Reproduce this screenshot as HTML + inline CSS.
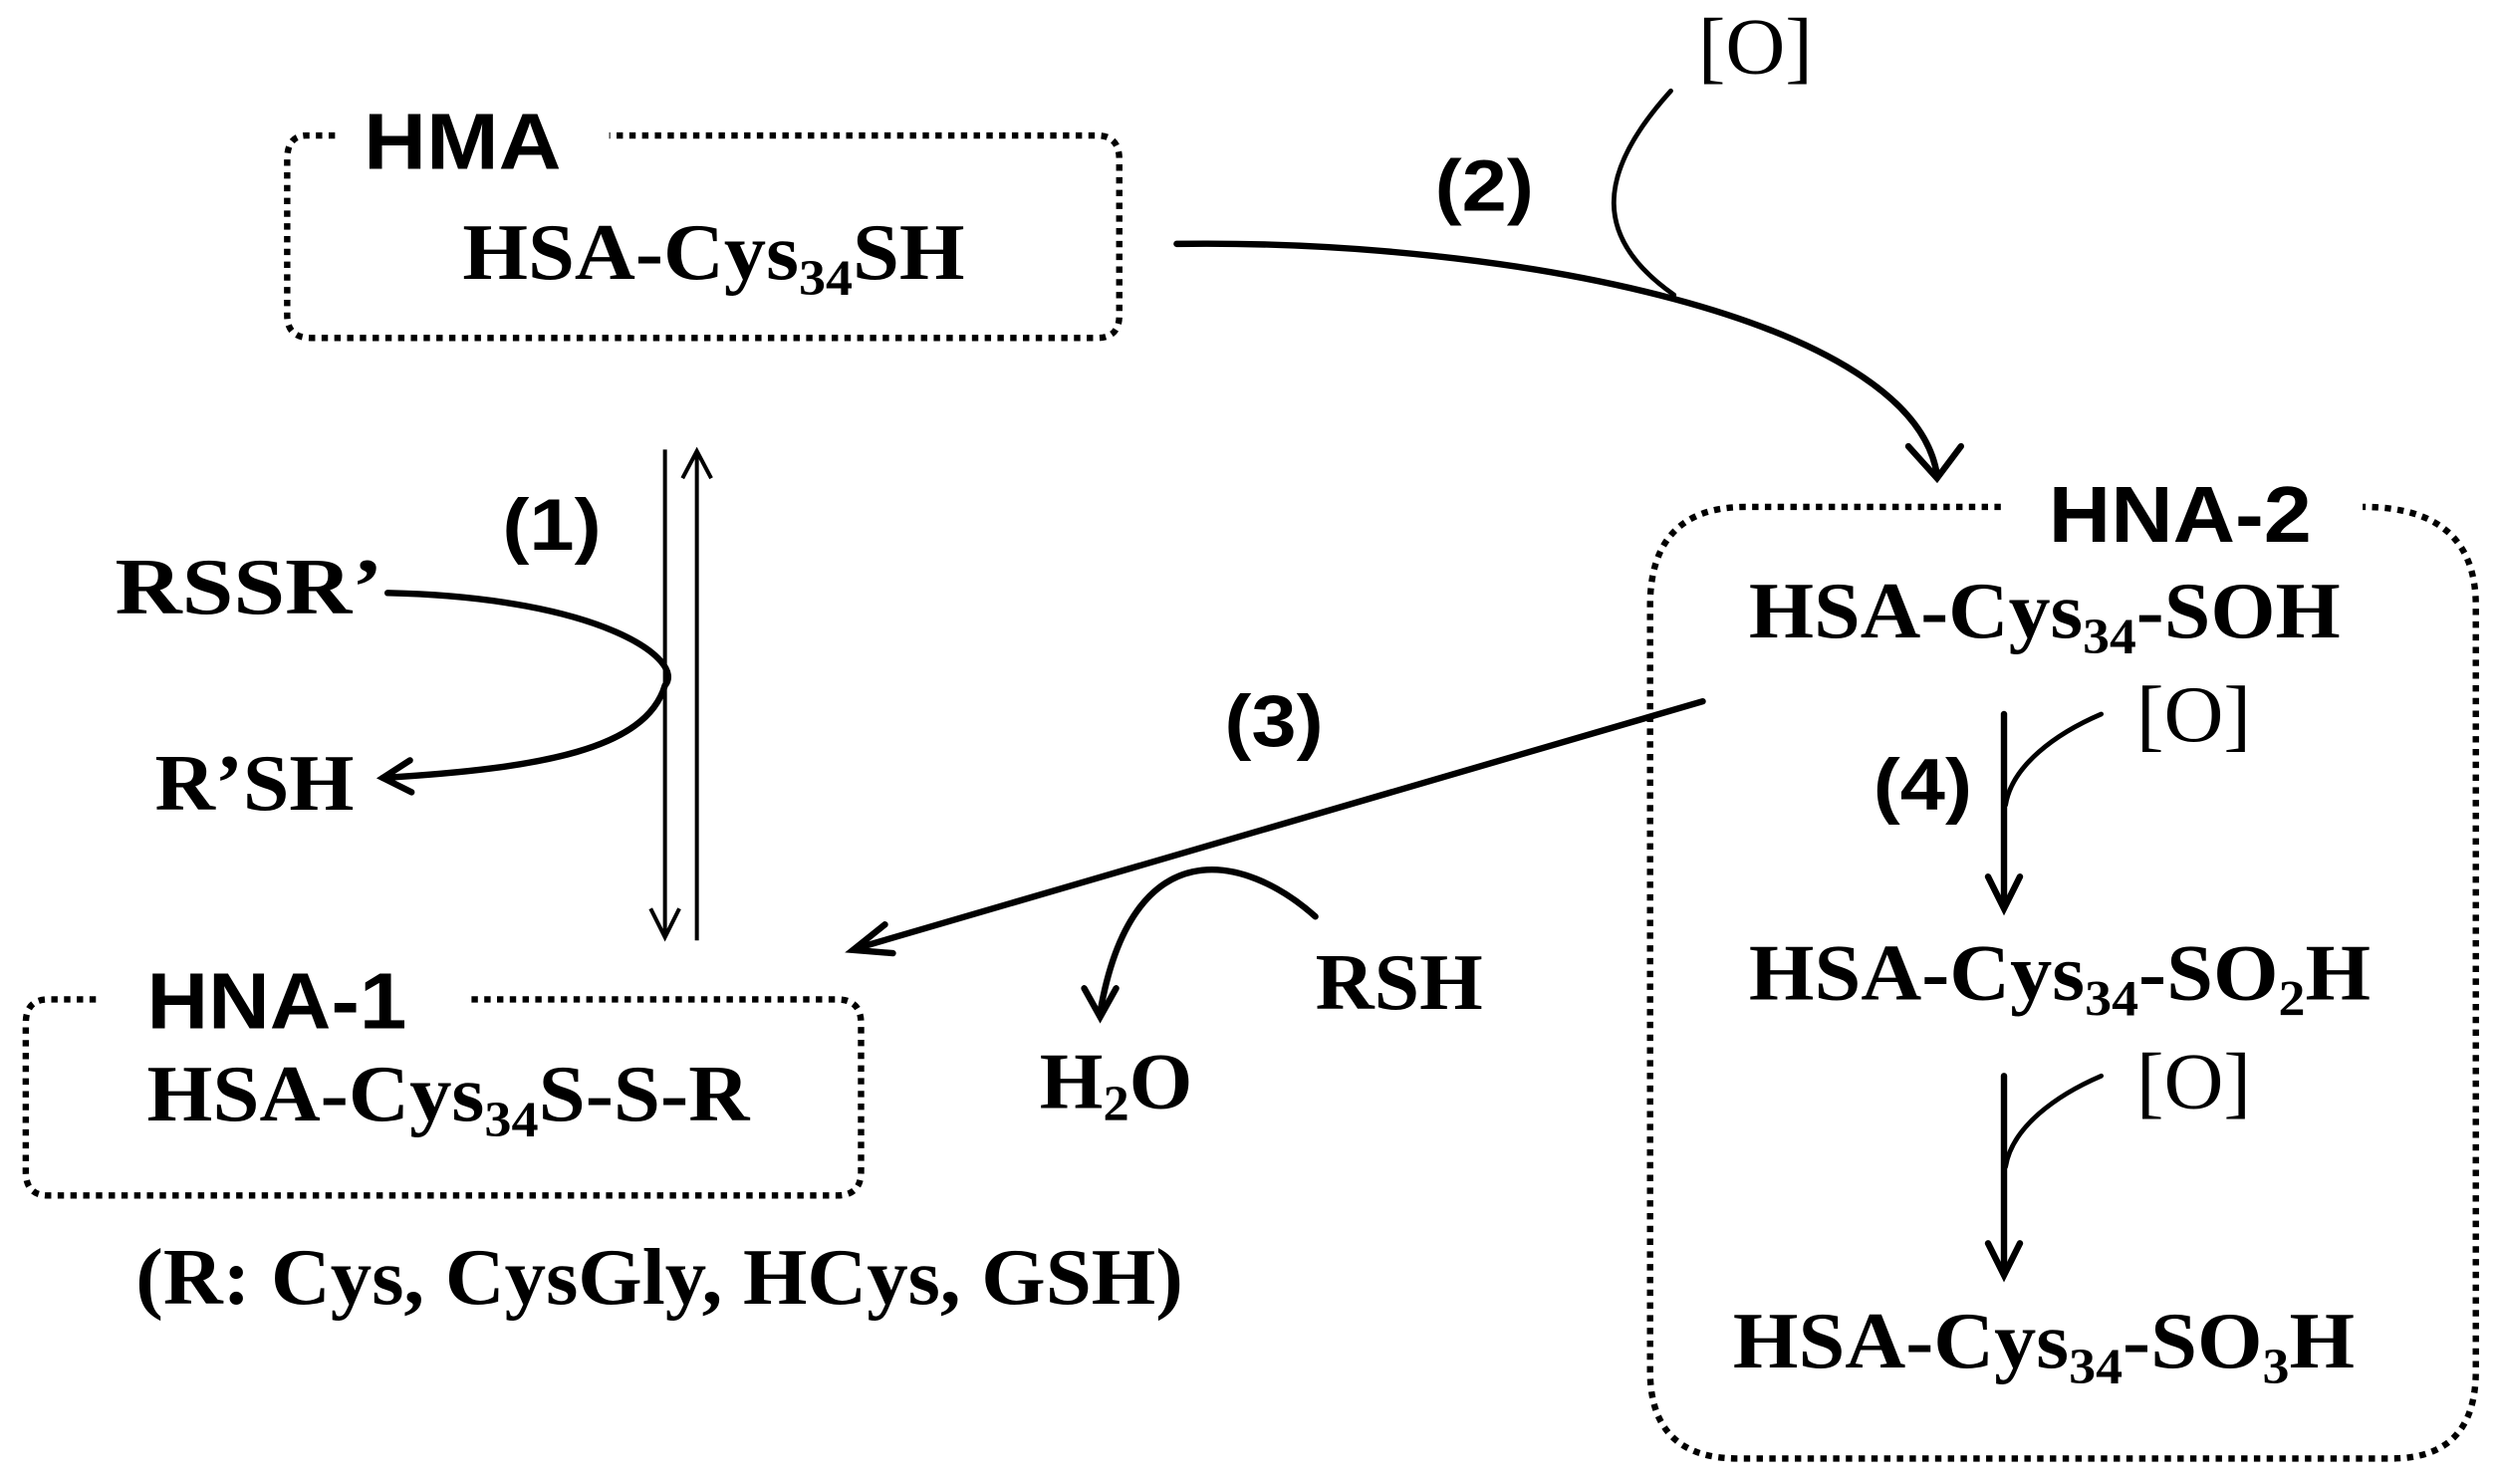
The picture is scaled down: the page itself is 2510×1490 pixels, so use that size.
<!DOCTYPE html>
<html><head><style>html,body{margin:0;padding:0;background:#fff}svg{display:block}
.s{font-family:"Liberation Serif",serif;font-weight:bold;font-size:50px}
.o{font-family:"Liberation Serif",serif;font-size:50px}
.h{font-family:"Liberation Sans",sans-serif;font-weight:bold;font-size:50px}
.n{font-family:"Liberation Sans",sans-serif;font-weight:bold;font-size:46px}
</style></head><body>
<svg width="2510" height="1490" viewBox="0 0 1568 931" xmlns="http://www.w3.org/2000/svg">
<g fill="none" stroke="#000" stroke-width="4" stroke-dasharray="4 4">
<path d="M210,85 H192 Q180,85 180,100 V198 Q180,212 195,212 H688 Q702,212 702,198 V100 Q702,85 688,85 H382"/>
<path d="M60,627 H30 Q16,627 16,642 V735 Q16,750 30,750 H525 Q540,750 540,735 V642 Q540,627 525,627 H295"/>
<path d="M1255,318 H1095 Q1035,318 1035,380 V860 Q1035,915 1090,915 H1500 Q1553,915 1553,860 V380 Q1553,318 1482,318"/>
</g>
<g fill="#000" lengthAdjust="spacingAndGlyphs">
<text class="h" x="228" y="106" textLength="124" lengthAdjust="spacingAndGlyphs">HMA</text>
<text class="h" x="92" y="645" textLength="163" lengthAdjust="spacingAndGlyphs">HNA-1</text>
<text class="h" x="1285" y="340" textLength="165" lengthAdjust="spacingAndGlyphs">HNA-2</text>
<text class="s" x="290" y="175" textLength="315" lengthAdjust="spacingAndGlyphs">HSA-Cys<tspan font-size="32" dy="10">34</tspan><tspan dy="-10">SH</tspan></text>
<text class="s" x="92" y="703" textLength="378" lengthAdjust="spacingAndGlyphs">HSA-Cys<tspan font-size="32" dy="10">34</tspan><tspan dy="-10">S-S-R</tspan></text>
<text class="s" x="85" y="818" textLength="657" lengthAdjust="spacingAndGlyphs">(R: Cys, CysGly, HCys, GSH)</text>
<text class="s" x="1097" y="400" textLength="371" lengthAdjust="spacingAndGlyphs">HSA-Cys<tspan font-size="32" dy="10">34</tspan><tspan dy="-10">-SOH</tspan></text>
<text class="s" x="1097" y="627" textLength="390" lengthAdjust="spacingAndGlyphs">HSA-Cys<tspan font-size="32" dy="10">34</tspan><tspan dy="-10">-SO</tspan><tspan font-size="32" dy="10">2</tspan><tspan dy="-10">H</tspan></text>
<text class="s" x="1087" y="858" textLength="390" lengthAdjust="spacingAndGlyphs">HSA-Cys<tspan font-size="32" dy="10">34</tspan><tspan dy="-10">-SO</tspan><tspan font-size="32" dy="10">3</tspan><tspan dy="-10">H</tspan></text>
<text class="o" x="1065" y="46" textLength="72" lengthAdjust="spacingAndGlyphs">[O]</text>
<text class="o" x="1340" y="465" textLength="72" lengthAdjust="spacingAndGlyphs">[O]</text>
<text class="o" x="1340" y="695" textLength="72" lengthAdjust="spacingAndGlyphs">[O]</text>
<text class="n" x="900" y="132" textLength="62" lengthAdjust="spacingAndGlyphs">(2)</text>
<text class="n" x="315" y="345" textLength="62" lengthAdjust="spacingAndGlyphs">(1)</text>
<text class="n" x="768" y="468" textLength="62" lengthAdjust="spacingAndGlyphs">(3)</text>
<text class="n" x="1175" y="508" textLength="62" lengthAdjust="spacingAndGlyphs">(4)</text>
<text class="s" x="72" y="385" textLength="168" lengthAdjust="spacingAndGlyphs">RSSR’</text>
<text class="s" x="97" y="508" textLength="125" lengthAdjust="spacingAndGlyphs">R’SH</text>
<text class="s" x="825" y="633" textLength="105" lengthAdjust="spacingAndGlyphs">RSH</text>
<text class="s" x="652" y="695" textLength="96" lengthAdjust="spacingAndGlyphs">H<tspan font-size="32" dy="8">2</tspan><tspan dy="-8">O</tspan></text>
</g>
<g fill="none" stroke="#000" stroke-width="4" stroke-linecap="round">
<path d="M738,153 C950,150 1200,200 1215,298"/>
<path d="M1197,280 L1215,300 L1230,280"/>
<path d="M1048,57 C1000,110 1000,150 1050,185" stroke-width="3"/>
<path d="M1068,440 L537,595"/>
<path d="M555,580 L535,596 L560,598"/>
<path d="M825,575 C780,535 710,520 690,635"/>
<path d="M680,620 L690,638 L700,620"/>
<path d="M243,372 C380,375 430,415 417,430 C405,470 340,482 240,488"/>
<path d="M257,477 L240,488 L258,497"/>
<path d="M1257,448 V568"/>
<path d="M1247,550 L1257,570 L1267,550"/>
<path d="M1318,448 C1290,460 1262,480 1258,505" stroke-width="3"/>
<path d="M1257,675 V798"/>
<path d="M1247,780 L1257,800 L1267,780"/>
<path d="M1318,675 C1290,687 1262,707 1258,732" stroke-width="3"/>
</g>
<g fill="none" stroke="#000" stroke-width="2.5">
<path d="M417,282 V588 M408,570 L417,588 L426,570"/>
<path d="M437,590 V283 M428,300 L437,283 L446,300"/>
</g>
</svg>
</body></html>
